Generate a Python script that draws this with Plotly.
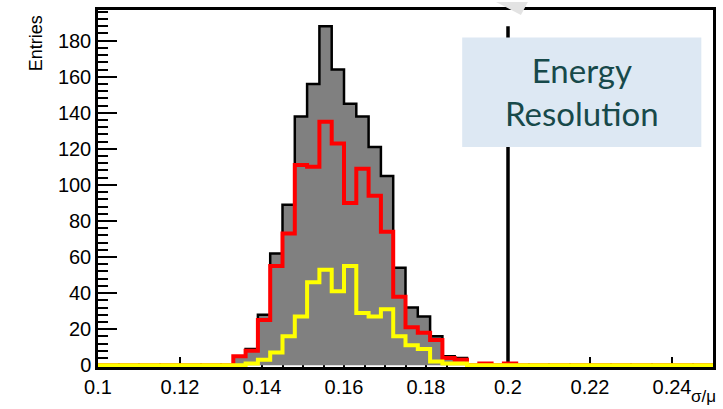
import plotly.graph_objects as go

# ---- data -------------------------------------------------------------
x_min, x_max = 0.1, 0.25
n_bins = 50
bin_edges = [round(x_min + i * (x_max - x_min) / n_bins, 4) for i in range(n_bins + 1)]

# entries per bin (bin 0 = [0.100, 0.103), ..., bin 49 = [0.247, 0.250))
total_counts = [0, 0, 0, 0, 0, 0, 0, 0, 0, 0,
                0, 5, 9, 28, 62, 89, 138, 156, 188, 164,
                145, 138, 121, 105, 54, 32, 27, 16, 5, 4,
                0, 1, 0, 1, 0, 0, 0, 0, 0, 0,
                0, 0, 0, 0, 0, 0, 0, 0, 0, 0]
red_counts = [0, 0, 0, 0, 0, 0, 0, 0, 0, 0,
              0, 5, 8, 25, 55, 73, 111, 110, 135, 123,
              90, 109, 94, 74, 38, 21, 18, 14, 4, 3,
              0, 1, 0, 1, 0, 0, 0, 0, 0, 0,
              0, 0, 0, 0, 0, 0, 0, 0, 0, 0]
yellow_counts = [0, 0, 0, 0, 0, 0, 0, 0, 0, 0,
                 0, 0, 1, 3, 7, 16, 27, 46, 53, 41,
                 55, 29, 27, 31, 16, 11, 9, 2, 1, 1,
                 0, 0, 0, 0, 0, 0, 0, 0, 0, 0,
                 0, 0, 0, 0, 0, 0, 0, 0, 0, 0]

cut_value = 0.2
cut_height = 188

x_tickvals = [0.1, 0.12, 0.14, 0.16, 0.18, 0.2, 0.22, 0.24]
x_ticktext = ["0.1", "0.12", "0.14", "0.16", "0.18", "0.2", "0.22", "0.24"]
y_tickvals = [0, 20, 40, 60, 80, 100, 120, 140, 160, 180]
y_ticktext = ["0", "20", "40", "60", "80", "100", "120", "140", "160", "180"]

x_title = "σ/μ"
y_title = "Entries"
box_text = "Energy<br>Resolution"

# ---- figure -----------------------------------------------------------
def steps(counts):
    return counts + [counts[-1]]

fig = go.Figure()
fig.add_trace(go.Scatter(x=bin_edges, y=steps(total_counts), mode="lines",
                         line=dict(shape="hv", color="black", width=2.5),
                         fill="tozeroy", fillcolor="#808080", hoverinfo="skip"))
fig.add_trace(go.Scatter(x=[cut_value, cut_value], y=[0, cut_height], mode="lines",
                         line=dict(color="black", width=3.5), hoverinfo="skip"))
fig.add_trace(go.Scatter(x=bin_edges, y=steps(red_counts), mode="lines",
                         line=dict(shape="hv", color="#ff0000", width=4), hoverinfo="skip"))
fig.add_trace(go.Scatter(x=bin_edges, y=steps(yellow_counts), mode="lines",
                         line=dict(shape="hv", color="#ffff00", width=4), hoverinfo="skip"))

tick_font = dict(family="Liberation Sans, Arial, sans-serif", size=20, color="black")

fig.update_layout(
    width=723, height=409,
    margin=dict(l=98, r=7, t=8, b=42),
    paper_bgcolor="white", plot_bgcolor="white",
    showlegend=False,
    xaxis=dict(range=[x_min, x_max], showgrid=False, zeroline=False,
               showline=True, mirror=True, linecolor="black", linewidth=2.5,
               layer="below traces",
               ticks="inside", ticklen=10, tickwidth=2, tickcolor="black",
               tickvals=x_tickvals, ticktext=x_ticktext, tickfont=tick_font,
               minor=dict(ticks="inside", ticklen=4, tickwidth=2, tickcolor="black",
                          dtick=0.005, tick0=0.1, showgrid=False)),
    yaxis=dict(range=[-1, 197], showgrid=False, zeroline=False,
               showline=True, mirror=True, linecolor="black", linewidth=2.5,
               layer="below traces",
               ticks="inside", ticklen=19, tickwidth=2, tickcolor="black",
               tickvals=y_tickvals, ticktext=y_ticktext, tickfont=tick_font,
               minor=dict(ticks="inside", ticklen=10, tickwidth=2, tickcolor="black",
                          dtick=4, tick0=0, showgrid=False)),
)

fig.add_annotation(text=y_title, xref="paper", yref="paper", x=-0.1003, y=0.992,
                   xanchor="center", yanchor="top", textangle=-90, showarrow=False,
                   font=dict(family="Liberation Sans, Arial, sans-serif", size=18, color="black"))
fig.add_annotation(text=x_title, xref="paper", yref="paper", x=1.006, y=-0.052,
                   xanchor="right", yanchor="top", showarrow=False, borderpad=0,
                   font=dict(family="Liberation Sans, Arial, sans-serif", size=17, color="black"))

# slide overlay: text box and small grey pointer
fig.add_shape(type="rect", xref="paper", yref="paper", x0=0.5922, x1=0.981,
              y0=0.6165, y1=0.9229, fillcolor="#dde8f3", line=dict(width=0), layer="above")
fig.add_shape(type="path", xref="paper", yref="paper",
              path="M 0.6472,1.0223 L 0.6990,1.0223 L 0.6877,0.986 Z",
              fillcolor="#e3e3e3", line=dict(width=0), layer="above")
fig.add_annotation(text=box_text, xref="paper", yref="paper", x=0.7866, y=0.772,
                   xanchor="center", yanchor="middle", showarrow=False, align="center",
                   font=dict(family="Lato, sans-serif", size=33, color="#17494a"))

fig.write_html("out.html")
